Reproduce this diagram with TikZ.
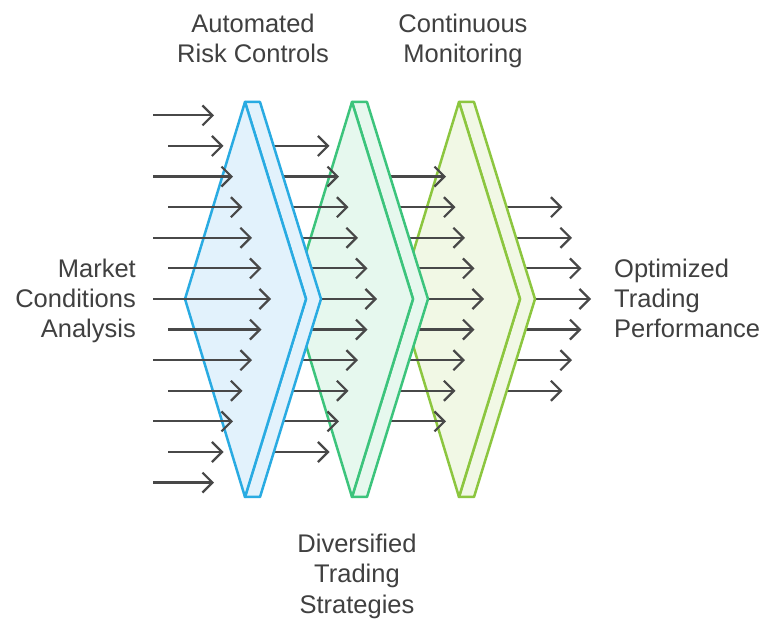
\documentclass[tikz,border=0pt]{standalone}
\usepackage{fontspec}
\setmainfont{Liberation Sans}
\usetikzlibrary{arrows.meta}
\definecolor{txt}{HTML}{404040}
\definecolor{arr}{HTML}{484848}
\definecolor{bS}{HTML}{29ABE2}
\definecolor{bF}{HTML}{E2F2FC}
\definecolor{gS}{HTML}{3CC47C}
\definecolor{gF}{HTML}{E6F8EE}
\definecolor{lS}{HTML}{8CC63F}
\definecolor{lF}{HTML}{F1F8E5}
\newcommand\mkslab[3]{%
  \draw[slabline, draw=#2, fill=#3] (#1,102) -- (#1+15,102) -- (#1+76,299) -- (#1+15,497) -- (#1,497) -- (#1+61,299) -- cycle;
  \draw[slabline, draw=#2, fill=#3] (#1,102) -- (#1-60,299) -- (#1,497) -- (#1+61,299) -- cycle;}
\begin{document}
\begin{tikzpicture}[x=1pt,y=-1pt,
  flow/.style={draw=arr, line width=2.2pt, -{Straight Barb[length=10pt,width=20pt,line width=2.2pt]}},
  slabline/.style={line width=2.5pt, line join=round},
  lbl/.style={text=txt, font=\fontsize{25.5}{30}\selectfont, inner sep=0pt, anchor=base}]
\useasboundingbox[fill=white] (0,0) rectangle (764,620);
% output arrows (under lime)
\foreach \k in {-3,...,3}
  \draw[flow] (464,{299+30.6*\k}) -- ({591-9.5*abs(\k)},{299+30.6*\k});
\mkslab{459}{lS}{lF}
\foreach \k in {-4,...,4}
  \draw[flow] (357,{299+30.6*\k}) -- ({484-9.5*abs(\k)},{299+30.6*\k});
\mkslab{352}{gS}{gF}
\foreach \k in {-5,...,5}
  \draw[flow] (250,{299+30.6*\k}) -- ({377-9.5*abs(\k)},{299+30.6*\k});
\mkslab{245}{bS}{bF}
\foreach \k in {-6,...,6}
  \draw[flow] ({153+15*mod(abs(\k),2)},{299+30.6*\k}) -- ({271-9.5*abs(\k)},{299+30.6*\k});
% labels
\node[lbl] (a1) at (253,33) {Automated};
\node[lbl] (a2) at (253,63) {Risk Controls};
\node[lbl] (c1) at (463,33) {Continuous};
\node[lbl] (c2) at (463,63) {Monitoring};
\node[lbl, anchor=base east] (m1) at (136,278) {Market};
\node[lbl, anchor=base east] (m2) at (136,308) {Conditions};
\node[lbl, anchor=base east] (m3) at (136,338) {Analysis};
\node[lbl, anchor=base west] (o1) at (614,278) {Optimized};
\node[lbl, anchor=base west] (o2) at (614,308) {Trading};
\node[lbl, anchor=base west] (o3) at (614,338) {Performance};
\node[lbl] (d1) at (357,553) {Diversified};
\node[lbl] (d2) at (357,583) {Trading};
\node[lbl] (d3) at (357,613) {Strategies};
\end{tikzpicture}
\end{document}
